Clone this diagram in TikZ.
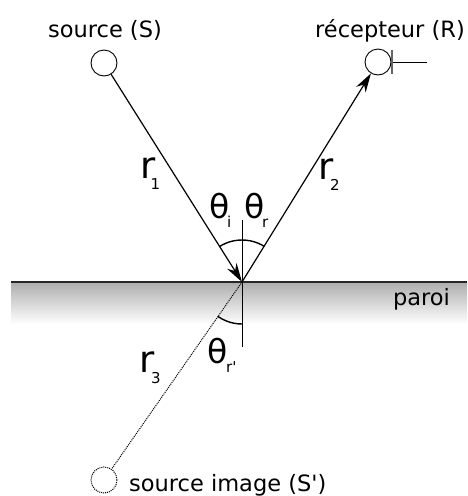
\documentclass[tikz,border=0pt]{standalone}
\usepackage{fontspec}
\newfontfamily\lab{DejaVu Sans}
\usetikzlibrary{arrows.meta}
\newcommand{\mysub}[3]{\hspace{#1}\raisebox{#2}{\fontsize{15}{18}\selectfont #3}}
\begin{document}
\begin{tikzpicture}[x=1pt,y=-1pt,
  txt/.style={inner sep=0pt, font=\lab\fontsize{22.5}{26}\selectfont},
  rsym/.style={inner sep=0pt, anchor=base west, font=\lab\fontsize{37}{40}\selectfont},
  thsym/.style={inner sep=0pt, anchor=base west, font=\lab\fontsize{33}{36}\selectfont},
  pt/.style={circle, draw, line width=0.9pt, minimum size=26pt, inner sep=0pt},
  ray/.style={line width=1.2pt},
  tip/.style={-{Stealth[length=19pt,width=11pt,inset=6pt]}},
  angarc/.style={line width=1.4pt},
  dots/.style={line width=1pt, dash pattern=on 1pt off 1pt},
  ]
\useasboundingbox (0,0) rectangle (467,496);
% wall
\coordinate (W1) at (11,282);
\coordinate (W2) at (467,282);
\coordinate (W3) at (467,324);
\shade[top color=black!32, bottom color=white] (W1) rectangle (W3);
\draw[line width=1.8pt, black!85] (W1) -- (W2);
\coordinate (P) at (242,282);
% points
\node[pt] (S) at (104,63) {};
\node[pt] (R) at (378,62) {};
\node[pt, dots] (Si) at (104,480) {};
% rays
\draw[ray, tip] (S) -- (P);
\draw[ray, tip] (P) -- (R);
\draw[dots] (P) -- (Si);
% normal
\coordinate (N1) at (242,220);
\coordinate (N2) at (242,347);
\draw[line width=0.9pt] (N1) -- (N2);
% angle arcs
\begin{scope}
\clip (P) -- (S.center) -- (R.center) -- cycle;
\draw[angarc] (P) circle[radius=42pt];
\end{scope}
\begin{scope}
\clip (P) -- (242,496) -- (Si.center) -- cycle;
\draw[angarc] (P) circle[radius=42pt];
\end{scope}
% receiver tick
\coordinate (T1) at (392,50);
\coordinate (T2) at (392,74);
\coordinate (Rend) at (427,62);
\draw[line width=0.9pt] (R.east) -- (Rend);
\draw[black!60, line width=1.5pt] (T1) -- (T2);
% labels
\node[txt, anchor=base] (lS) at (105,37) {source (S)};
\node[txt, anchor=base] (lR) at (390,37) {récepteur (R)};
\node[txt, anchor=base] (lW) at (421.5,305) {paroi};
\node[txt, anchor=base west] (lSi) at (129,491) {source image (S')};
% r labels
\node[rsym] (r1) at (140.6,178) {r\mysub{-5.3pt}{-11pt}{1}};
\node[rsym] (r2) at (318.6,179) {r\mysub{-3.8pt}{-11pt}{2}};
\node[rsym] (r3) at (139.6,372) {r\mysub{-3.8pt}{-11pt}{3}};
% theta labels
\node[thsym] (ti) at (209.4,218) {θ\mysub{-2.7pt}{-9pt}{i}};
\node[thsym] (tr) at (244.4,218) {θ\mysub{-2.7pt}{-9pt}{r}};
\node[thsym] (trp) at (207.4,363) {θ\mysub{-1.7pt}{-9pt}{r'}};
\end{tikzpicture}
\end{document}
